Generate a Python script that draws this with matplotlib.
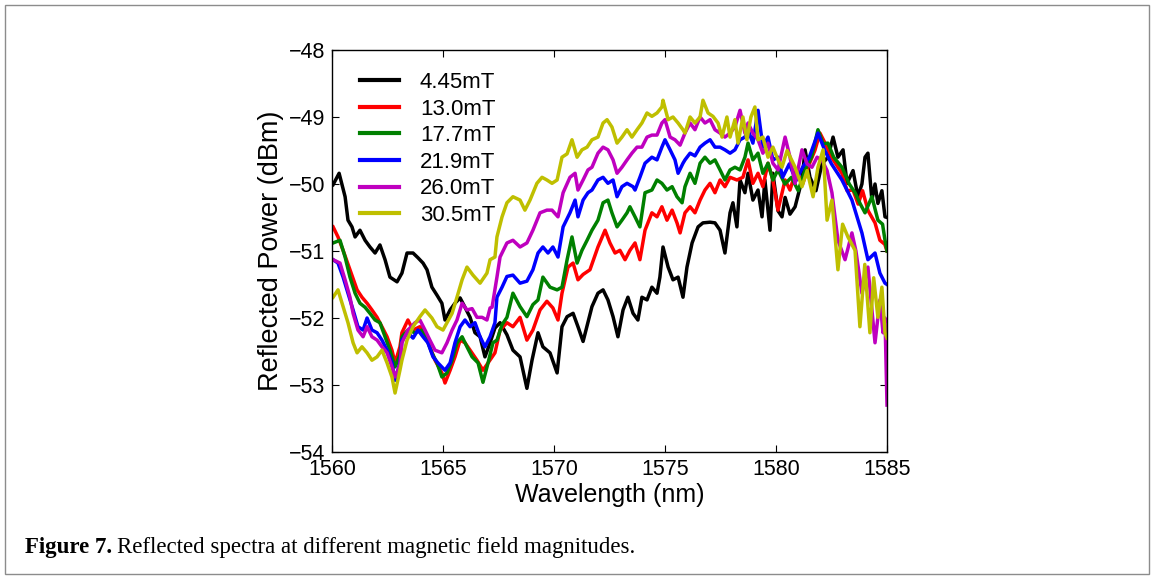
import matplotlib
matplotlib.use("Agg")

import matplotlib.pyplot as plt
from matplotlib.patches import Rectangle

# field values (legend) and colours
labels = ["4.45mT", "13.0mT", "17.7mT", "21.9mT", "26.0mT", "30.5mT"]
colors = [(0, 0, 0), (1, 0, 0), (0, 0.5, 0), (0, 0, 1), (0.75, 0, 0.75), (0.75, 0.75, 0)]

# 4.45 mT
wl_k = [1560.05, 1560.32, 1560.59, 1560.72, 1560.90, 1561.04, 1561.26, 1561.49, 1561.71, 1561.94,
        1562.16, 1562.39, 1562.61, 1562.93, 1563.15, 1563.38, 1563.65, 1563.87, 1564.10, 1564.28,
        1564.50, 1564.73, 1564.95, 1565.09, 1565.32, 1565.54, 1565.77, 1565.99, 1566.22, 1566.44,
        1566.67, 1566.89, 1567.12, 1567.34, 1567.57, 1567.88, 1568.15, 1568.47, 1568.78, 1569.01,
        1569.28, 1569.50, 1569.82, 1570.14, 1570.36, 1570.59, 1570.86, 1571.08, 1571.31, 1571.71,
        1571.98, 1572.21, 1572.43, 1572.66, 1572.88, 1573.11, 1573.33, 1573.56, 1573.78, 1573.96,
        1574.19, 1574.41, 1574.64, 1574.77, 1574.91, 1575.14, 1575.36, 1575.59, 1575.81, 1575.99,
        1576.22, 1576.49, 1576.71, 1577.03, 1577.25, 1577.48, 1577.70, 1577.93, 1578.06, 1578.24,
        1578.38, 1578.60, 1578.74, 1578.96, 1579.19, 1579.37, 1579.50, 1579.73, 1579.86, 1580.09,
        1580.27, 1580.41, 1580.63, 1580.86, 1581.17, 1581.31, 1581.53, 1581.80, 1582.07, 1582.34,
        1582.57, 1582.79, 1583.02, 1583.20, 1583.47, 1583.69, 1583.87, 1584.01, 1584.14, 1584.32,
        1584.46, 1584.59, 1584.77, 1584.91, 1585.00]
p_k = [-50.01, -49.84, -50.19, -50.54, -50.64, -50.79, -50.69, -50.84, -50.94, -51.03,
       -50.91, -51.13, -51.39, -51.46, -51.33, -51.03, -51.03, -51.10, -51.18, -51.28,
       -51.54, -51.66, -51.78, -52.03, -51.88, -51.78, -51.70, -51.84, -51.99, -52.22,
       -52.28, -52.58, -52.37, -52.15, -52.07, -52.25, -52.48, -52.58, -53.05, -52.63,
       -52.22, -52.43, -52.52, -52.82, -52.13, -51.98, -51.93, -52.13, -52.35, -51.83,
       -51.63, -51.58, -51.73, -51.98, -52.28, -51.88, -51.69, -51.93, -52.03, -51.69,
       -51.73, -51.54, -51.63, -51.39, -50.94, -51.24, -51.43, -51.39, -51.69, -51.24,
       -50.88, -50.64, -50.58, -50.57, -50.58, -50.69, -51.03, -50.43, -50.28, -50.64,
       -49.94, -50.13, -49.84, -50.24, -50.09, -50.49, -49.94, -50.69, -49.84, -50.40,
       -50.49, -50.20, -50.45, -50.34, -49.94, -49.49, -49.90, -50.10, -49.70, -49.60,
       -49.30, -49.60, -49.49, -49.99, -49.80, -50.19, -50.00, -49.60, -49.54, -50.24,
       -50.00, -50.29, -50.10, -50.49, -50.50]

# 13.0 mT
wl_r = [1560.05, 1560.27, 1560.50, 1560.81, 1561.13, 1561.35, 1561.58, 1561.80, 1562.03, 1562.25,
        1562.48, 1562.70, 1562.84, 1563.06, 1563.15, 1563.42, 1563.65, 1563.96, 1564.19, 1564.41,
        1564.64, 1564.95, 1565.09, 1565.32, 1565.54, 1565.77, 1565.99, 1566.22, 1566.53, 1566.80,
        1567.03, 1567.34, 1567.57, 1567.88, 1568.15, 1568.47, 1568.78, 1569.05, 1569.37, 1569.68,
        1569.95, 1570.18, 1570.36, 1570.63, 1570.86, 1571.08, 1571.31, 1571.62, 1571.98, 1572.30,
        1572.52, 1572.75, 1572.97, 1573.20, 1573.42, 1573.65, 1573.87, 1574.10, 1574.41, 1574.64,
        1574.86, 1575.09, 1575.32, 1575.54, 1575.68, 1575.90, 1576.13, 1576.35, 1576.58, 1576.80,
        1577.03, 1577.25, 1577.48, 1577.70, 1577.93, 1578.24, 1578.51, 1578.74, 1578.96, 1579.19,
        1579.41, 1579.64, 1579.86, 1580.09, 1580.41, 1580.63, 1580.90, 1581.20, 1581.50, 1581.75,
        1581.98, 1582.21, 1582.50, 1582.97, 1583.20, 1583.47, 1583.70, 1583.90, 1584.15, 1584.46,
        1584.68, 1584.90, 1585.00]
p_r = [-50.64, -50.79, -50.99, -51.28, -51.58, -51.69, -51.78, -51.88, -51.99, -52.13,
       -52.28, -52.48, -52.67, -52.43, -52.22, -52.03, -52.18, -52.13, -52.22, -52.43,
       -52.63, -52.82, -52.97, -52.78, -52.58, -52.33, -52.37, -52.48, -52.63, -52.78,
       -52.67, -52.52, -52.18, -52.07, -52.13, -51.99, -52.33, -52.18, -51.88, -51.75,
       -51.85, -52.03, -51.63, -51.24, -51.18, -51.43, -51.35, -51.28, -50.94, -50.69,
       -50.88, -51.03, -50.99, -51.13, -50.99, -50.88, -51.13, -50.69, -50.43, -50.49,
       -50.34, -50.54, -50.39, -50.58, -50.73, -50.43, -50.34, -50.43, -50.24, -50.09,
       -49.99, -50.13, -49.94, -50.04, -49.90, -49.94, -49.90, -49.64, -49.99, -49.84,
       -50.04, -49.69, -49.94, -50.39, -49.94, -50.09, -49.80, -50.00, -49.70, -49.50,
       -49.24, -49.39, -49.60, -49.84, -50.10, -50.09, -50.30, -50.10, -50.40, -50.58,
       -50.84, -50.90, -51.00]

# 17.7 mT
wl_g = [1560.05, 1560.36, 1560.59, 1560.81, 1561.04, 1561.26, 1561.49, 1561.71, 1561.94, 1562.16,
        1562.39, 1562.61, 1562.84, 1563.06, 1563.15, 1563.42, 1563.74, 1564.05, 1564.28, 1564.50,
        1564.73, 1564.95, 1565.18, 1565.41, 1565.63, 1565.86, 1566.08, 1566.31, 1566.58, 1566.80,
        1567.03, 1567.25, 1567.43, 1567.66, 1567.88, 1568.15, 1568.47, 1568.78, 1569.05, 1569.28,
        1569.50, 1569.82, 1570.14, 1570.36, 1570.59, 1570.81, 1571.04, 1571.26, 1571.49, 1571.71,
        1571.98, 1572.21, 1572.43, 1572.61, 1572.84, 1573.06, 1573.29, 1573.42, 1573.65, 1573.87,
        1574.10, 1574.41, 1574.64, 1574.86, 1575.09, 1575.32, 1575.54, 1575.77, 1575.90, 1576.13,
        1576.35, 1576.58, 1576.80, 1577.03, 1577.25, 1577.48, 1577.70, 1577.93, 1578.15, 1578.38,
        1578.60, 1578.74, 1578.96, 1579.19, 1579.41, 1579.64, 1579.86, 1580.09, 1580.40, 1580.70,
        1581.00, 1581.30, 1581.60, 1581.89, 1582.12, 1582.34, 1582.60, 1582.97, 1583.30, 1583.56,
        1583.80, 1584.01, 1584.32, 1584.59, 1584.80, 1584.91, 1585.00]
p_g = [-50.88, -50.84, -51.09, -51.39, -51.63, -51.78, -51.84, -51.93, -52.03, -52.07,
       -52.28, -52.48, -52.73, -52.55, -52.28, -52.18, -52.22, -52.18, -52.33, -52.52,
       -52.67, -52.88, -52.82, -52.63, -52.37, -52.28, -52.43, -52.58, -52.67, -52.96,
       -52.67, -52.37, -52.33, -52.10, -51.99, -51.63, -51.83, -51.98, -51.80, -51.73,
       -51.39, -51.54, -51.58, -51.54, -51.13, -50.79, -51.18, -50.99, -50.84, -50.69,
       -50.54, -50.28, -50.24, -50.43, -50.64, -50.54, -50.43, -50.34, -50.49, -50.64,
       -50.13, -50.09, -49.94, -49.99, -50.09, -50.04, -50.19, -50.28, -50.04, -49.84,
       -49.99, -49.69, -49.60, -49.69, -49.64, -49.79, -49.94, -49.79, -49.75, -49.79,
       -49.60, -49.39, -49.64, -49.54, -49.84, -49.69, -49.94, -49.79, -50.00, -49.90,
       -50.10, -49.80, -49.60, -49.19, -49.40, -49.39, -49.60, -49.75, -50.00, -50.13,
       -50.30, -50.43, -50.19, -50.54, -50.60, -50.84, -51.00]

# 21.9 mT
wl_b = [1560.05, 1560.27, 1560.50, 1560.72, 1560.95, 1561.17, 1561.40, 1561.58, 1561.80, 1562.03,
        1562.25, 1562.48, 1562.70, 1562.84, 1563.06, 1563.15, 1563.42, 1563.65, 1563.87, 1564.10,
        1564.32, 1564.55, 1564.77, 1565.09, 1565.32, 1565.54, 1565.77, 1565.99, 1566.22, 1566.44,
        1566.67, 1566.89, 1567.12, 1567.34, 1567.43, 1567.66, 1567.88, 1568.15, 1568.47, 1568.78,
        1569.05, 1569.28, 1569.50, 1569.73, 1569.95, 1570.18, 1570.41, 1570.72, 1570.95, 1571.08,
        1571.31, 1571.53, 1571.71, 1571.98, 1572.21, 1572.43, 1572.66, 1572.84, 1573.06, 1573.29,
        1573.56, 1573.65, 1573.87, 1574.10, 1574.41, 1574.64, 1574.86, 1575.00, 1575.23, 1575.45,
        1575.59, 1575.81, 1575.90, 1576.13, 1576.35, 1576.58, 1576.80, 1577.03, 1577.25, 1577.48,
        1577.70, 1577.93, 1578.15, 1578.38, 1578.60, 1578.74, 1578.96, 1579.19, 1579.41, 1579.64,
        1579.86, 1580.09, 1580.30, 1580.60, 1580.90, 1581.20, 1581.50, 1581.89, 1582.20, 1582.50,
        1582.97, 1583.42, 1583.87, 1584.14, 1584.46, 1584.68, 1584.91, 1585.00]
p_b = [-51.13, -51.18, -51.39, -51.63, -51.88, -52.13, -52.18, -52.00, -52.18, -52.22,
       -52.33, -52.48, -52.67, -52.93, -52.67, -52.33, -52.22, -52.30, -52.18, -52.28,
       -52.37, -52.58, -52.67, -52.78, -52.67, -52.37, -52.13, -52.03, -52.13, -52.07,
       -52.28, -52.43, -52.28, -52.07, -51.69, -51.54, -51.38, -51.36, -51.48, -51.45,
       -51.28, -51.03, -50.94, -51.03, -50.94, -51.09, -50.64, -50.43, -50.24, -50.49,
       -50.24, -50.13, -50.09, -49.94, -49.90, -49.99, -49.94, -50.19, -50.04, -49.99,
       -50.04, -50.09, -49.90, -49.69, -49.60, -49.64, -49.45, -49.34, -49.49, -49.64,
       -49.84, -49.69, -49.64, -49.54, -49.58, -49.45, -49.39, -49.34, -49.45, -49.45,
       -49.49, -49.54, -49.49, -49.34, -49.30, -49.19, -49.39, -48.90, -49.45, -49.30,
       -49.64, -49.60, -49.90, -49.70, -49.95, -49.75, -49.60, -49.24, -49.50, -49.70,
       -49.94, -50.24, -50.73, -51.13, -51.03, -51.33, -51.48, -51.50]

# 26.0 mT
wl_m = [1560.05, 1560.36, 1560.59, 1560.81, 1560.95, 1561.17, 1561.40, 1561.58, 1561.80, 1562.03,
        1562.25, 1562.48, 1562.70, 1562.84, 1563.06, 1563.15, 1563.42, 1563.74, 1563.96, 1564.19,
        1564.41, 1564.64, 1564.95, 1565.18, 1565.41, 1565.63, 1565.86, 1566.08, 1566.31, 1566.53,
        1566.76, 1566.98, 1567.12, 1567.21, 1567.43, 1567.57, 1567.88, 1568.15, 1568.47, 1568.78,
        1569.05, 1569.37, 1569.68, 1569.91, 1570.18, 1570.41, 1570.72, 1570.95, 1571.08, 1571.31,
        1571.53, 1571.71, 1571.98, 1572.21, 1572.43, 1572.66, 1572.84, 1573.06, 1573.29, 1573.51,
        1573.74, 1573.96, 1574.19, 1574.41, 1574.64, 1574.86, 1575.00, 1575.23, 1575.45, 1575.68,
        1575.90, 1576.13, 1576.35, 1576.58, 1576.80, 1577.03, 1577.25, 1577.48, 1577.70, 1577.93,
        1578.15, 1578.38, 1578.60, 1578.74, 1578.96, 1579.19, 1579.41, 1579.64, 1579.86, 1580.09,
        1580.41, 1580.63, 1580.86, 1581.17, 1581.40, 1581.62, 1581.85, 1582.07, 1582.30, 1582.52,
        1582.79, 1583.11, 1583.42, 1583.60, 1583.87, 1584.14, 1584.46, 1584.68, 1584.82, 1584.91,
        1585.00]
p_m = [-51.13, -51.18, -51.43, -51.69, -51.93, -52.18, -52.28, -52.13, -52.28, -52.33,
       -52.43, -52.52, -52.73, -52.88, -52.70, -52.37, -52.18, -52.07, -52.03, -52.18,
       -52.33, -52.48, -52.52, -52.37, -52.18, -52.03, -51.78, -51.88, -51.86, -51.99,
       -51.99, -52.03, -51.85, -51.84, -51.39, -51.09, -50.88, -50.84, -50.94, -50.88,
       -50.69, -50.43, -50.39, -50.39, -50.49, -50.13, -49.90, -49.84, -50.09, -49.94,
       -49.79, -49.75, -49.54, -49.45, -49.49, -49.64, -49.84, -49.75, -49.64, -49.54,
       -49.45, -49.45, -49.30, -49.27, -49.27, -49.09, -49.04, -49.30, -49.34, -49.42,
       -49.24, -49.09, -49.19, -49.00, -49.09, -49.04, -49.19, -49.24, -49.30, -49.24,
       -49.15, -48.90, -49.24, -49.09, -49.24, -49.34, -49.54, -49.39, -49.69, -49.79,
       -49.30, -49.60, -49.99, -49.49, -49.70, -49.75, -49.60, -49.64, -49.80, -50.13,
       -50.84, -51.13, -50.73, -51.00, -51.63, -51.24, -52.37, -51.73, -52.22, -52.00,
       -53.30]

# 30.5 mT
wl_y = [1560.05, 1560.27, 1560.50, 1560.72, 1560.95, 1561.13, 1561.35, 1561.58, 1561.80, 1562.03,
        1562.25, 1562.48, 1562.70, 1562.84, 1563.06, 1563.15, 1563.38, 1563.65, 1563.96, 1564.19,
        1564.50, 1564.73, 1565.00, 1565.18, 1565.41, 1565.63, 1565.86, 1566.08, 1566.35, 1566.67,
        1566.98, 1567.12, 1567.34, 1567.43, 1567.66, 1567.88, 1568.15, 1568.47, 1568.69, 1568.92,
        1569.23, 1569.46, 1569.68, 1569.91, 1570.14, 1570.36, 1570.59, 1570.81, 1571.04, 1571.26,
        1571.49, 1571.71, 1571.98, 1572.21, 1572.39, 1572.61, 1572.84, 1573.06, 1573.29, 1573.51,
        1573.74, 1573.96, 1574.19, 1574.41, 1574.64, 1574.86, 1574.91, 1575.14, 1575.36, 1575.59,
        1575.81, 1575.90, 1576.13, 1576.35, 1576.58, 1576.71, 1576.94, 1577.16, 1577.39, 1577.57,
        1577.79, 1577.93, 1578.15, 1578.29, 1578.51, 1578.69, 1578.87, 1579.05, 1579.19, 1579.41,
        1579.64, 1579.86, 1580.09, 1580.27, 1580.50, 1580.86, 1581.17, 1581.40, 1581.67, 1581.89,
        1582.12, 1582.30, 1582.52, 1582.79, 1583.00, 1583.24, 1583.56, 1583.78, 1584.00, 1584.23,
        1584.40, 1584.59, 1584.77, 1584.91, 1585.00]
p_y = [-51.69, -51.58, -51.83, -52.07, -52.37, -52.52, -52.43, -52.52, -52.63, -52.58,
       -52.48, -52.67, -52.88, -53.12, -52.78, -52.63, -52.33, -52.13, -51.98, -51.88,
       -52.00, -52.13, -52.18, -52.07, -51.93, -51.69, -51.43, -51.24, -51.36, -51.48,
       -51.33, -51.13, -51.09, -50.79, -50.49, -50.28, -50.19, -50.24, -50.39, -50.24,
       -49.99, -49.90, -49.94, -49.99, -49.94, -49.60, -49.55, -49.34, -49.60, -49.49,
       -49.45, -49.34, -49.30, -49.09, -49.04, -49.15, -49.39, -49.30, -49.19, -49.30,
       -49.19, -49.09, -48.94, -48.99, -48.94, -48.85, -48.75, -49.04, -49.00, -49.09,
       -49.19, -49.24, -49.00, -49.09, -49.00, -48.75, -48.94, -48.99, -49.09, -49.30,
       -49.00, -49.30, -49.04, -49.39, -49.00, -49.34, -49.00, -48.85, -49.34, -49.30,
       -49.60, -49.45, -49.64, -49.75, -49.50, -49.75, -50.04, -49.80, -50.19, -49.75,
       -49.49, -50.54, -50.24, -51.28, -50.60, -50.79, -50.99, -52.13, -51.20, -52.22,
       -51.40, -51.99, -51.54, -52.22, -52.30]

series = [(wl_k, p_k), (wl_r, p_r), (wl_g, p_g), (wl_b, p_b), (wl_m, p_m), (wl_y, p_y)]

x_ticks = [1560, 1565, 1570, 1575, 1580, 1585]
y_ticks = [-54, -53, -52, -51, -50, -49, -48]

sans = ["Liberation Sans", "DejaVu Sans"]
serif = ["Liberation Serif", "DejaVu Serif"]

fig = plt.figure(figsize=(11.54, 5.78), dpi=100)
fig.patch.set_facecolor("white")

# grey frame around the whole figure
fig.patches.append(Rectangle((5 / 1154, 4 / 578), 1144 / 1154, 569 / 578,
                             transform=fig.transFigure, fill=False,
                             edgecolor="#8c8c8c", linewidth=1.0))

ax = fig.add_axes([332 / 1154, 1 - 452 / 578, 555 / 1154, 402 / 578])

for (wl, p), lab, c in zip(series, labels, colors):
    ax.plot(wl, p, color=c, lw=2.5, label=lab)

ax.set_xlim(1560, 1585)
ax.set_ylim(-54, -48)
ax.set_xticks(x_ticks)
ax.set_yticks(y_ticks)
ax.set_xticklabels([str(v) for v in x_ticks], family=sans, fontsize=15.5)
ax.set_yticklabels(["\u2212%d" % abs(v) for v in y_ticks], family=sans, fontsize=15.5)
ax.tick_params(direction="in", length=5, width=0.8, top=True, right=True, pad=5)
for s in ax.spines.values():
    s.set_linewidth(1.0)

ax.set_xlabel("Wavelength (nm)", family=sans, fontsize=18, labelpad=2)
ax.set_ylabel("Reflected Power (dBm)", family=sans, fontsize=19.5, labelpad=3)

leg = ax.legend(loc="upper left", bbox_to_anchor=(0.05, 0.945), frameon=False,
                prop={"family": sans, "size": 16}, handlelength=1.75, handletextpad=0.95,
                labelspacing=0.25, borderpad=0, borderaxespad=0)
for h in leg.get_lines():
    h.set_linewidth(3)

# caption: bold figure number then plain text
fig.canvas.draw()
r = fig.canvas.get_renderer()
t1 = fig.text(25 / 1154, 1 - 547 / 578, "Figure 7.", family=serif, weight="bold",
              fontsize=16.5, va="center", ha="left")
bb = t1.get_window_extent(renderer=r)
fig.text(bb.x1 / 1154 + 5 / 1154, 1 - 547 / 578,
         "Reflected spectra at different magnetic field magnitudes.",
         family=serif, fontsize=16.5, va="center", ha="left")

fig.savefig("out.png", dpi=100)
